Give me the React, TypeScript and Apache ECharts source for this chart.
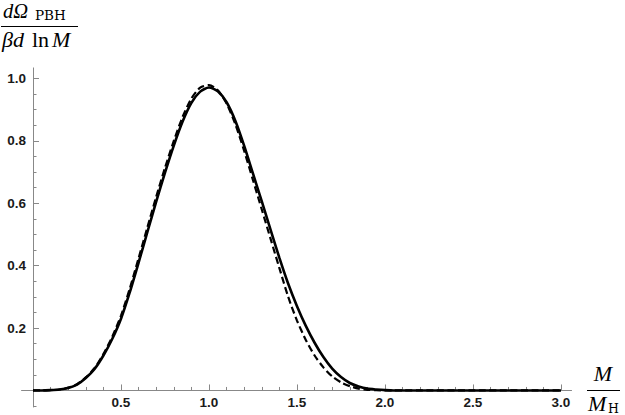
import React, { useEffect, useRef } from "react";
import * as echarts from "echarts";

// Mass ratio M / M_H
const xValues = [
  0, 0.05, 0.1, 0.15, 0.2, 0.25, 0.3, 0.35, 0.4, 0.45, 0.5, 0.55, 0.6, 0.65, 0.7, 0.75,
  0.8, 0.85, 0.9, 0.95, 1.0, 1.05, 1.1, 1.15, 1.2, 1.25, 1.3, 1.35, 1.4, 1.45, 1.5, 1.55,
  1.6, 1.65, 1.7, 1.75, 1.8, 1.85, 1.9, 1.95, 2.0, 2.05, 2.1, 2.15, 2.2, 2.5, 3.0,
];

// Solid curve
const solidValues = [
  0, 0, 0.001, 0.003, 0.008, 0.019, 0.04, 0.069, 0.112, 0.165, 0.23, 0.315, 0.41, 0.508, 0.605, 0.698,
  0.785, 0.862, 0.922, 0.958, 0.971, 0.959, 0.924, 0.864, 0.784, 0.695, 0.606, 0.515, 0.425, 0.342, 0.27, 0.207,
  0.153, 0.107, 0.07, 0.043, 0.024, 0.013, 0.006, 0.003, 0.001, 0, 0, 0, 0, 0, 0,
];

// Dashed curve
const dashedValues = [
  0, 0, 0.001, 0.003, 0.009, 0.02, 0.042, 0.072, 0.117, 0.172, 0.24, 0.327, 0.424, 0.523, 0.621, 0.714,
  0.8, 0.877, 0.936, 0.971, 0.979, 0.962, 0.92, 0.853, 0.768, 0.674, 0.58, 0.486, 0.392, 0.3, 0.224, 0.162,
  0.112, 0.074, 0.045, 0.026, 0.014, 0.006, 0.002, 0.001, 0, 0, 0, 0, 0, 0, 0,
];

const xMajorTicks = [0.5, 1.0, 1.5, 2.0, 2.5, 3.0];
const xMinorTicks = [
  0.1, 0.2, 0.3, 0.4, 0.6, 0.7, 0.8, 0.9, 1.1, 1.2, 1.3, 1.4, 1.6, 1.7, 1.8, 1.9,
  2.1, 2.2, 2.3, 2.4, 2.6, 2.7, 2.8, 2.9,
];
const yMajorTicks = [0.2, 0.4, 0.6, 0.8, 1.0];
const yMinorTicks = [
  -0.05, 0.05, 0.1, 0.15, 0.25, 0.3, 0.35, 0.45, 0.5, 0.55, 0.65, 0.7, 0.75, 0.85, 0.9, 0.95,
];

const X_MIN = -0.065;
const X_MAX = 3.06;
const Y_MIN = -0.053;
const Y_MAX = 1.034;

const AXIS_GRAY = "#888888";
const LABEL_FONT = "'Liberation Sans', Arial, sans-serif";
const MATH_FONT = "'Liberation Serif', 'Times New Roman', serif";
const SUB_FONT = "'DejaVu Serif', 'Liberation Serif', serif";

export default function App() {
  const ref = useRef<HTMLDivElement>(null);

  useEffect(() => {
    if (!ref.current) return;
    const chart = echarts.init(ref.current, undefined, { renderer: "svg" });

    const axisLabelStyle = {
      fontFamily: LABEL_FONT,
      fontWeight: "bold" as const,
      fontSize: 13.5,
      color: "#1a1a1a",
    };

    const fs = 22;
    const mid = (baseline: number, size: number) => baseline - 0.3375 * size;

    const option: any = {
      animation: false,
      backgroundColor: "#ffffff",
      grid: {
        left: 21.56,
        right: 53.44,
        top: 67.9,
        bottom: 8,
        containLabel: false,
        outerBoundsMode: "none",
      },
      xAxis: [
        {
          type: "value",
          position: "bottom",
          min: X_MIN,
          max: X_MAX,
          axisLine: { show: true, onZero: true, lineStyle: { color: AXIS_GRAY, width: 1 } },
          axisTick: {
            show: true,
            inside: true,
            length: 6,
            customValues: xMajorTicks,
            lineStyle: { color: AXIS_GRAY, width: 1 },
          },
          axisLabel: {
            show: true,
            customValues: xMajorTicks,
            formatter: (v: number) => v.toFixed(1),
            margin: -12,
            ...axisLabelStyle,
          },
          splitLine: { show: false },
        },
        {
          type: "value",
          position: "bottom",
          min: X_MIN,
          max: X_MAX,
          axisLine: { show: true, onZero: true, lineStyle: { color: AXIS_GRAY, opacity: 0 } },
          axisTick: {
            show: true,
            inside: true,
            length: 3.5,
            customValues: xMinorTicks,
            lineStyle: { color: AXIS_GRAY, width: 1 },
          },
          axisLabel: { show: false },
          splitLine: { show: false },
        },
      ],
      yAxis: [
        {
          type: "value",
          position: "left",
          min: Y_MIN,
          max: Y_MAX,
          axisLine: { show: true, onZero: true, lineStyle: { color: AXIS_GRAY, width: 1 } },
          axisTick: {
            show: true,
            inside: true,
            length: 6,
            customValues: yMajorTicks,
            lineStyle: { color: AXIS_GRAY, width: 1 },
          },
          axisLabel: {
            show: true,
            customValues: yMajorTicks,
            formatter: (v: number) => v.toFixed(1),
            margin: -4.5,
            ...axisLabelStyle,
          },
          splitLine: { show: false },
        },
        {
          type: "value",
          position: "left",
          min: Y_MIN,
          max: Y_MAX,
          axisLine: { show: true, onZero: true, lineStyle: { color: AXIS_GRAY, opacity: 0 } },
          axisTick: {
            show: true,
            inside: true,
            length: 3.5,
            customValues: yMinorTicks,
            lineStyle: { color: AXIS_GRAY, width: 1 },
          },
          axisLabel: { show: false },
          splitLine: { show: false },
        },
      ],
      series: [
        {
          type: "line",
          name: "dashed",
          xAxisIndex: 0,
          yAxisIndex: 0,
          data: xValues.map((x, i) => [x, dashedValues[i]]),
          showSymbol: false,
          smooth: 0.25,
          lineStyle: { color: "#000000", width: 2.2, type: [7, 3.5] },
          z: 3,
        },
        {
          type: "line",
          name: "solid",
          xAxisIndex: 0,
          yAxisIndex: 0,
          data: xValues.map((x, i) => [x, solidValues[i]]),
          showSymbol: false,
          smooth: 0.25,
          lineStyle: { color: "#000000", width: 2.6 },
          z: 4,
        },
      ],
      graphic: [
        // y-axis title: dΩ_PBH / (β d ln M)
        {
          type: "text",
          x: 3,
          y: mid(18, 20.5),
          style: { text: "dΩ", fontFamily: MATH_FONT, fontStyle: "italic", fontSize: 20.5, lineHeight: 14, fill: "#000", align: "left", verticalAlign: "middle" },
        },
        {
          type: "text",
          x: 35,
          y: mid(20, 14),
          style: { text: "PBH", fontFamily: SUB_FONT, fontSize: 13.5, fill: "#000", align: "left", verticalAlign: "middle" },
        },
        {
          type: "line",
          shape: { x1: 1, y1: 26.5, x2: 78, y2: 26.5 },
          style: { stroke: "#000", lineWidth: 1 },
        },
        {
          type: "text",
          x: 2,
          y: mid(46.5, fs),
          style: { text: "βd", fontFamily: MATH_FONT, fontStyle: "italic", fontSize: fs, fill: "#000", align: "left", verticalAlign: "middle" },
        },
        {
          type: "text",
          x: 32,
          y: mid(46.5, fs),
          style: { text: "ln", fontFamily: MATH_FONT, fontSize: fs, fill: "#000", align: "left", verticalAlign: "middle" },
        },
        {
          type: "text",
          x: 52,
          y: mid(46.5, fs),
          style: { text: "M", fontFamily: MATH_FONT, fontStyle: "italic", fontSize: fs, fill: "#000", align: "left", verticalAlign: "middle" },
        },
        // x-axis title: M / M_H
        {
          type: "text",
          x: 603,
          y: mid(381, fs),
          style: { text: "M", fontFamily: MATH_FONT, fontStyle: "italic", fontSize: fs, fill: "#000", align: "center", verticalAlign: "middle" },
        },
        {
          type: "line",
          shape: { x1: 587, y1: 390.5, x2: 620, y2: 390.5 },
          style: { stroke: "#000", lineWidth: 1 },
        },
        {
          type: "text",
          x: 588,
          y: mid(411, fs),
          style: { text: "M", fontFamily: MATH_FONT, fontStyle: "italic", fontSize: fs, lineHeight: 16, fill: "#000", align: "left", verticalAlign: "middle" },
        },
        {
          type: "text",
          x: 608,
          y: mid(412.5, 13),
          style: { text: "H", fontFamily: SUB_FONT, fontSize: 12.5, lineHeight: 10, fill: "#000", align: "left", verticalAlign: "middle" },
        },
      ],
    };

    chart.setOption(option);
    return () => {
      chart.dispose();
    };
  }, []);

  return (
    <div
      ref={ref}
      style={{ position: "fixed", left: 0, top: 0, width: 625, height: 415, background: "#ffffff" }}
    />
  );
}
